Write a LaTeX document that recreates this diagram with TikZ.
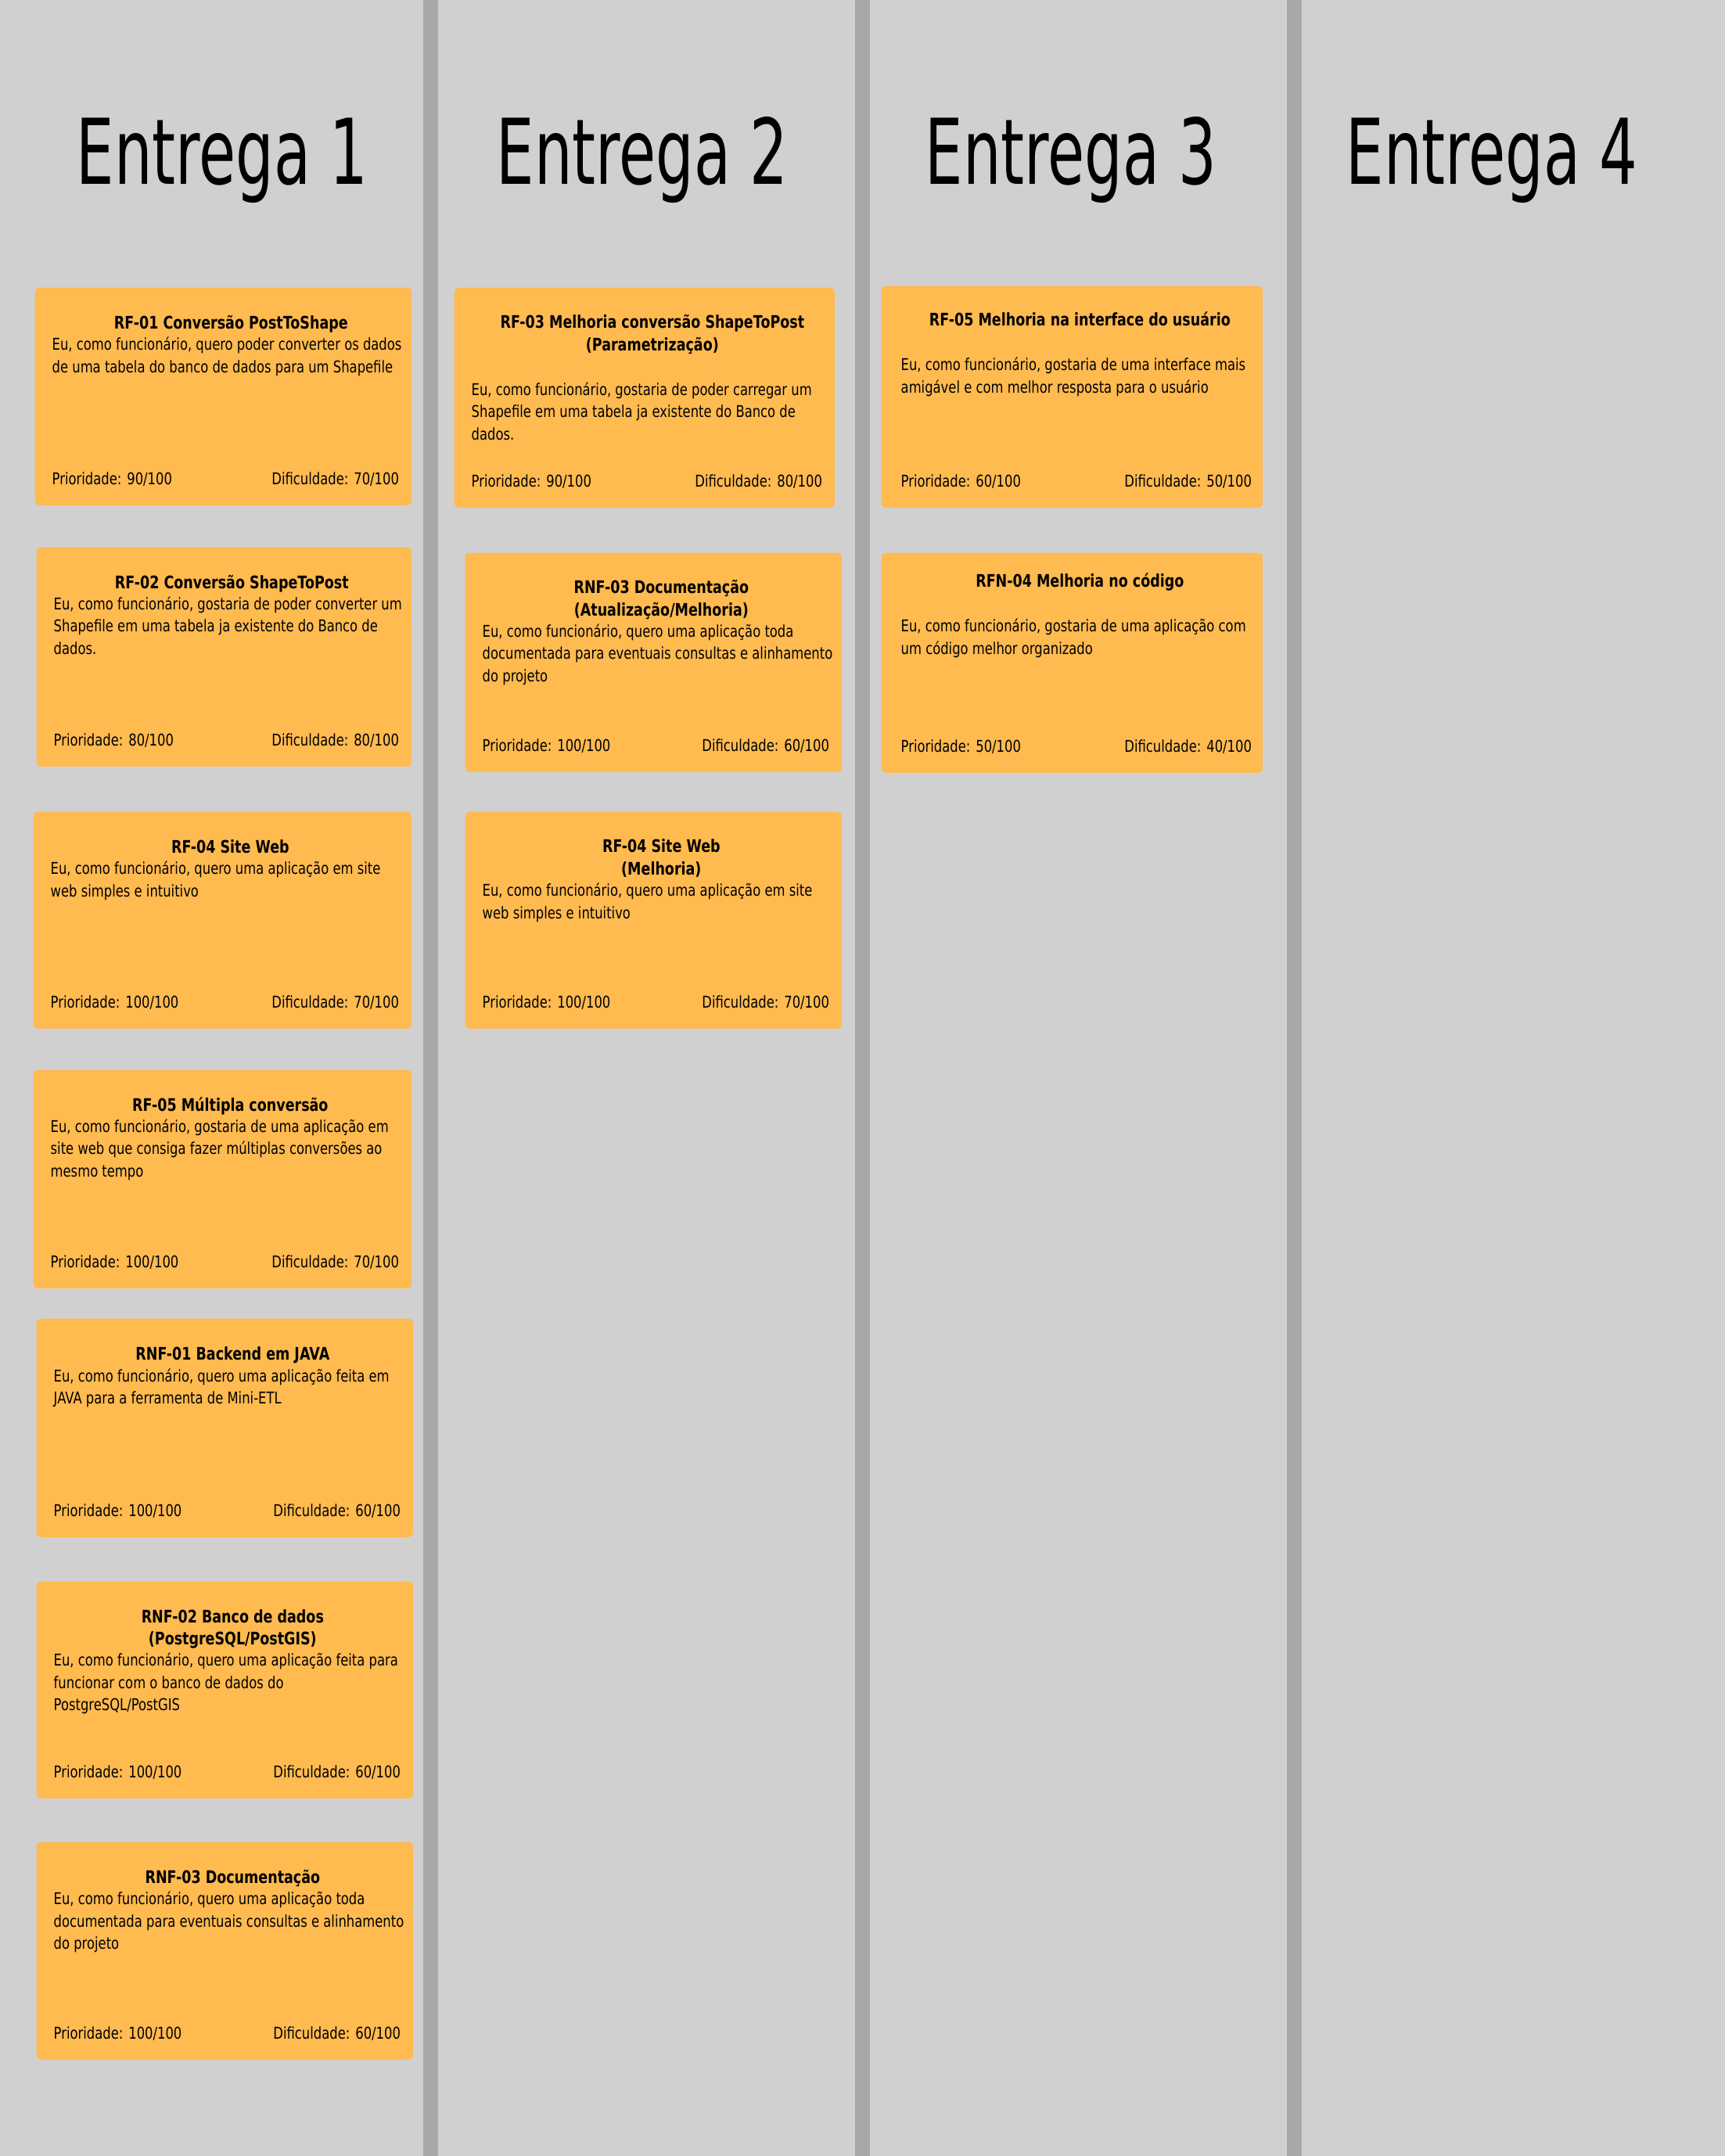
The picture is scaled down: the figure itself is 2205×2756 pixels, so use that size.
\documentclass[tikz,border=0pt]{standalone}
\usepackage{fontspec}
\setmainfont{DejaVu Sans}[FakeStretch=0.79]
\newfontfamily\headfont{DejaVu Sans}[FakeStretch=0.66]
\definecolor{lanebg}{HTML}{D1D0D1}
\definecolor{lanesep}{HTML}{A8A8A8}
\definecolor{cardfill}{HTML}{FFBA50}
\begin{document}
\begin{tikzpicture}[x=0.01cm,y=-0.01cm,
  card/.style={fill=cardfill, rounded corners=0.06cm, anchor=north west, minimum width=4.81cm, minimum height=2.79cm, inner sep=0pt},
  ctitle/.style={font=\fontsize{6.3}{7.97}\selectfont\bfseries, align=center, anchor=base, inner sep=0pt},
  cbody/.style={font=\fontsize{5.9}{7.97}\selectfont, align=left, anchor=base west, inner sep=0pt},
  cprio/.style={font=\fontsize{5.9}{7.97}\selectfont, anchor=base west, inner sep=0pt},
  cdif/.style={font=\fontsize{5.9}{7.97}\selectfont, anchor=base east, inner sep=0pt},
  lanetitle/.style={font=\headfont\fontsize{33}{40}\selectfont, anchor=base, inner sep=0pt}]
\useasboundingbox (0,0) rectangle (2205,2756);
\fill[lanebg] (0,0) rectangle (2205,2756);
\fill[lanesep] (541,0) rectangle (560,2756);
\fill[lanesep] (1093,0) rectangle (1112,2756);
\fill[lanesep] (1645,0) rectangle (1664,2756);
\node[lanetitle] (t1) at (284,235) {Entrega 1};
\node[lanetitle] (t2) at (821,235) {Entrega 2};
\node[lanetitle] (t3) at (1369,235) {Entrega 3};
\node[lanetitle] (t4) at (1907,235) {Entrega 4};

% Entrega 1 (base = last line of a node)
\node[card, minimum height=2.78cm] (e1a) at (44,367) {};
\node[ctitle] (e1a-t) at ([shift={(10,53)}]e1a.north) {RF-01 Conversão PostToShape};
\node[cbody] (e1a-b) at ([shift={(22,109)}]e1a.north west) {Eu, como funcionário, quero poder converter os dados\\de uma tabela do banco de dados para um Shapefile};
\node[cprio] (e1a-p) at ([shift={(22,-27)}]e1a.south west) {Prioridade: 90/100};
\node[cdif] (e1a-d) at ([shift={(-16,-27)}]e1a.south east) {Dificuldade: 70/100};

\node[card, minimum width=4.79cm, minimum height=2.8cm] (e1b) at (46,699) {};
\node[ctitle] (e1b-t) at ([shift={(10,53)}]e1b.north) {RF-02 Conversão ShapeToPost};
\node[cbody] (e1b-b) at ([shift={(22,137)}]e1b.north west) {Eu, como funcionário, gostaria de poder converter um\\Shapefile em uma tabela ja existente do Banco de\\dados.};
\node[cprio] (e1b-p) at ([shift={(22,-27)}]e1b.south west) {Prioridade: 80/100};
\node[cdif] (e1b-d) at ([shift={(-16,-27)}]e1b.south east) {Dificuldade: 80/100};

\node[card, minimum width=4.83cm, minimum height=2.77cm] (e1c) at (42,1037) {};
\node[ctitle] (e1c-t) at ([shift={(10,53)}]e1c.north) {RF-04 Site Web};
\node[cbody] (e1c-b) at ([shift={(22,109)}]e1c.north west) {Eu, como funcionário, quero uma aplicação em site\\web simples e intuitivo};
\node[cprio] (e1c-p) at ([shift={(22,-27)}]e1c.south west) {Prioridade: 100/100};
\node[cdif] (e1c-d) at ([shift={(-16,-27)}]e1c.south east) {Dificuldade: 70/100};

\node[card, minimum width=4.83cm] (e1d) at (42,1367) {};
\node[ctitle] (e1d-t) at ([shift={(10,53)}]e1d.north) {RF-05 Múltipla conversão};
\node[cbody] (e1d-b) at ([shift={(22,137)}]e1d.north west) {Eu, como funcionário, gostaria de uma aplicação em\\site web que consiga fazer múltiplas conversões ao\\mesmo tempo};
\node[cprio] (e1d-p) at ([shift={(22,-27)}]e1d.south west) {Prioridade: 100/100};
\node[cdif] (e1d-d) at ([shift={(-16,-27)}]e1d.south east) {Dificuldade: 70/100};

\node[card] (e1e) at (46,1685) {};
\node[ctitle] (e1e-t) at ([shift={(10,53)}]e1e.north) {RNF-01 Backend em JAVA};
\node[cbody] (e1e-b) at ([shift={(22,109)}]e1e.north west) {Eu, como funcionário, quero uma aplicação feita em\\JAVA para a ferramenta de Mini-ETL};
\node[cprio] (e1e-p) at ([shift={(22,-27)}]e1e.south west) {Prioridade: 100/100};
\node[cdif] (e1e-d) at ([shift={(-16,-27)}]e1e.south east) {Dificuldade: 60/100};

\node[card, minimum height=2.77cm] (e1f) at (46,2021) {};
\node[ctitle] (e1f-t) at ([shift={(10,81)}]e1f.north) {RNF-02 Banco de dados\\(PostgreSQL/PostGIS)};
\node[cbody] (e1f-b) at ([shift={(22,165)}]e1f.north west) {Eu, como funcionário, quero uma aplicação feita para\\funcionar com o banco de dados do\\PostgreSQL/PostGIS};
\node[cprio] (e1f-p) at ([shift={(22,-27)}]e1f.south west) {Prioridade: 100/100};
\node[cdif] (e1f-d) at ([shift={(-16,-27)}]e1f.south east) {Dificuldade: 60/100};

\node[card, minimum height=2.78cm] (e1g) at (46,2354) {};
\node[ctitle] (e1g-t) at ([shift={(10,53)}]e1g.north) {RNF-03 Documentação};
\node[cbody] (e1g-b) at ([shift={(22,137)}]e1g.north west) {Eu, como funcionário, quero uma aplicação toda\\documentada para eventuais consultas e alinhamento\\do projeto};
\node[cprio] (e1g-p) at ([shift={(22,-27)}]e1g.south west) {Prioridade: 100/100};
\node[cdif] (e1g-d) at ([shift={(-16,-27)}]e1g.south east) {Dificuldade: 60/100};

% Entrega 2
\node[card, minimum width=4.86cm, minimum height=2.81cm] (e2a) at (580,367) {};
\node[ctitle] (e2a-t) at ([shift={(10,81)}]e2a.north) {RF-03 Melhoria conversão ShapeToPost\\(Parametrização)};
\node[cbody] (e2a-b) at ([shift={(22,195)}]e2a.north west) {Eu, como funcionário, gostaria de poder carregar um\\Shapefile em uma tabela ja existente do Banco de\\dados.};
\node[cprio] (e2a-p) at ([shift={(22,-27)}]e2a.south west) {Prioridade: 90/100};
\node[cdif] (e2a-d) at ([shift={(-16,-27)}]e2a.south east) {Dificuldade: 80/100};

\node[card, minimum height=2.8cm] (e2b) at (594,706) {};
\node[ctitle] (e2b-t) at ([shift={(10,81)}]e2b.north) {RNF-03 Documentação\\(Atualização/Melhoria)};
\node[cbody] (e2b-b) at ([shift={(22,165)}]e2b.north west) {Eu, como funcionário, quero uma aplicação toda\\documentada para eventuais consultas e alinhamento\\do projeto};
\node[cprio] (e2b-p) at ([shift={(22,-27)}]e2b.south west) {Prioridade: 100/100};
\node[cdif] (e2b-d) at ([shift={(-16,-27)}]e2b.south east) {Dificuldade: 60/100};

\node[card, minimum height=2.77cm] (e2c) at (594,1037) {};
\node[ctitle] (e2c-t) at ([shift={(10,81)}]e2c.north) {RF-04 Site Web\\(Melhoria)};
\node[cbody] (e2c-b) at ([shift={(22,137)}]e2c.north west) {Eu, como funcionário, quero uma aplicação em site\\web simples e intuitivo};
\node[cprio] (e2c-p) at ([shift={(22,-27)}]e2c.south west) {Prioridade: 100/100};
\node[cdif] (e2c-d) at ([shift={(-16,-27)}]e2c.south east) {Dificuldade: 70/100};

% Entrega 3
\node[card, minimum width=4.87cm, minimum height=2.83cm] (e3a) at (1126,365) {};
\node[ctitle] (e3a-t) at ([shift={(10,51)}]e3a.north) {RF-05 Melhoria na interface do usuário};
\node[cbody] (e3a-b) at ([shift={(25,137)}]e3a.north west) {Eu, como funcionário, gostaria de uma interface mais\\amigável e com melhor resposta para o usuário};
\node[cprio] (e3a-p) at ([shift={(25,-27)}]e3a.south west) {Prioridade: 60/100};
\node[cdif] (e3a-d) at ([shift={(-14,-27)}]e3a.south east) {Dificuldade: 50/100};

\node[card, minimum width=4.87cm, minimum height=2.81cm] (e3b) at (1126,706) {};
\node[ctitle] (e3b-t) at ([shift={(10,44)}]e3b.north) {RFN-04 Melhoria no código};
\node[cbody] (e3b-b) at ([shift={(25,130)}]e3b.north west) {Eu, como funcionário, gostaria de uma aplicação com\\um código melhor organizado};
\node[cprio] (e3b-p) at ([shift={(25,-27)}]e3b.south west) {Prioridade: 50/100};
\node[cdif] (e3b-d) at ([shift={(-14,-27)}]e3b.south east) {Dificuldade: 40/100};
\end{tikzpicture}
\end{document}
